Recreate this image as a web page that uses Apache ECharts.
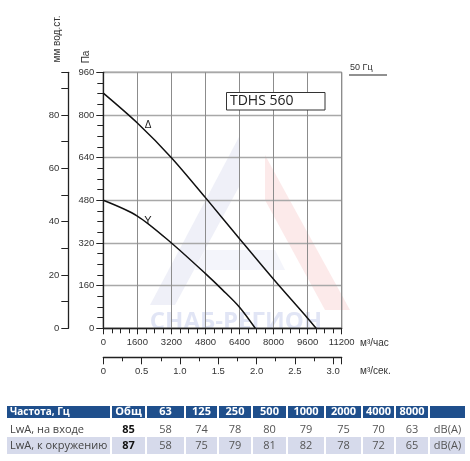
<!DOCTYPE html>
<html>
<head>
<meta charset="utf-8">
<script src="https://cdn.jsdelivr.net/npm/echarts@6/dist/echarts.min.js"></script>
<style>
  html, body { margin: 0; padding: 0; background: #fff; }
  #chart { width: 470px; height: 461px; }
</style>
</head>
<body>
<div id="chart"></div>
<script>
// fan curves (flow m3/h -> pressure Pa)
const deltaFlow = [0, 1600, 3200, 4800, 6400, 8000, 9600, 10000]
const deltaPa = [882, 770, 640, 490, 336, 184, 38, 0]
const starFlow = [0, 1600, 3200, 4800, 5600, 6400, 7140]
const starPa = [480, 421, 320, 205, 144, 79, 0]

// sound table
const bands = ['Общ', '63', '125', '250', '500', '1000', '2000', '4000', '8000']
const lwInlet = [85, 58, 74, 78, 80, 79, 75, 70, 63]
const lwAmbient = [87, 58, 75, 79, 81, 82, 78, 72, 65]
const rowNames = ['Частота, Гц', 'LwA, на входе', 'LwA, к окружению']
const unit = 'dB(A)'

const FONT = 'Liberation Sans, Arial, sans-serif'
const TFONT = 'Open Sans, sans-serif'

const chart = echarts.init(document.getElementById('chart'))

// table columns [x0, x1]
const cols = [[7, 110], [112, 145], [147, 184], [186, 217], [219, 251], [253, 286], [288, 324], [326, 361], [363, 394], [396, 428], [430, 465]]

function tableGraphics() {
  const g = []
  cols.forEach((c, i) => {
    g.push({ type: 'rect', shape: { x: c[0], y: 406, width: c[1] - c[0], height: 12 }, style: { fill: '#1f4f8c' } })
    g.push({ type: 'rect', shape: { x: c[0], y: 437, width: c[1] - c[0], height: 17 }, style: { fill: '#d6daeb' } })
  })
  g.push({ type: 'text', x: 10, y: 412, style: { text: rowNames[0], fill: '#fff', font: 'bold 10px ' + TFONT, textVerticalAlign: 'middle' } })
  g.push({ type: 'text', x: 10, y: 429.5, style: { text: rowNames[1], fill: '#444', font: '11px ' + TFONT, textVerticalAlign: 'middle' } })
  g.push({ type: 'text', x: 10, y: 445.5, style: { text: rowNames[2], fill: '#444', font: '11px ' + TFONT, textVerticalAlign: 'middle' } })
  bands.forEach((b, i) => {
    const c = cols[i + 1]
    const cx = (c[0] + c[1]) / 2
    g.push({ type: 'text', x: cx, y: 412, style: { text: b, fill: '#fff', font: 'bold 11px ' + TFONT, textAlign: 'center', textVerticalAlign: 'middle' } })
    const bold = i === 0
    g.push({ type: 'text', x: cx, y: 429.5, style: { text: String(lwInlet[i]), fill: bold ? '#111' : '#555', font: (bold ? 'bold ' : '') + '11px ' + TFONT, textAlign: 'center', textVerticalAlign: 'middle' } })
    g.push({ type: 'text', x: cx, y: 445.5, style: { text: String(lwAmbient[i]), fill: bold ? '#111' : '#555', font: (bold ? 'bold ' : '') + '11px ' + TFONT, textAlign: 'center', textVerticalAlign: 'middle' } })
  })
  const lc = cols[10]
  g.push({ type: 'text', x: (lc[0] + lc[1]) / 2, y: 429.5, style: { text: unit, fill: '#555', font: '11px ' + TFONT, textAlign: 'center', textVerticalAlign: 'middle' } })
  g.push({ type: 'text', x: (lc[0] + lc[1]) / 2, y: 445.5, style: { text: unit, fill: '#555', font: '11px ' + TFONT, textAlign: 'center', textVerticalAlign: 'middle' } })
  return g
}

const watermark = [
  { type: 'polygon', z: -10, shape: { points: [[240, 135], [150, 305], [175, 305], [240, 185]] }, style: { fill: 'rgba(120,130,200,0.12)' } },
  { type: 'polygon', z: -10, shape: { points: [[265, 155], [350, 310], [325, 310], [265, 200]] }, style: { fill: 'rgba(230,80,80,0.12)' } },
  { type: 'polygon', z: -10, shape: { points: [[205, 250], [275, 250], [285, 270], [195, 270]] }, style: { fill: 'rgba(120,130,200,0.08)' } },
  { type: 'text', z: -10, x: 236, y: 322, style: { text: 'СНАБ-РЕГИОН', fill: 'rgba(170,180,225,0.35)', font: 'bold 24px ' + TFONT, textAlign: 'center', textVerticalAlign: 'middle' } }
]

const labels = [
  { type: 'text', x: 57, y: 39, rotation: Math.PI / 2, style: { text: 'мм вод.ст.', fill: '#333', font: '10px ' + FONT, textAlign: 'center', textVerticalAlign: 'middle' } },
  { type: 'text', x: 86, y: 57, rotation: Math.PI / 2, style: { text: 'Па', fill: '#333', font: '10px ' + FONT, textAlign: 'center', textVerticalAlign: 'middle' } },
  { type: 'text', x: 360, y: 343, style: { text: 'м³/час', fill: '#333', font: '10px ' + FONT, textVerticalAlign: 'middle' } },
  { type: 'text', x: 360, y: 371, style: { text: 'м³/сек.', fill: '#333', font: '10px ' + FONT, textVerticalAlign: 'middle' } },
  { type: 'text', x: 350, y: 68, style: { text: '50 Гц', fill: '#333', font: '9px ' + FONT, textVerticalAlign: 'middle' } },
  { type: 'line', shape: { x1: 349, y1: 75, x2: 387, y2: 75 }, style: { stroke: '#222', lineWidth: 1 } },
  { type: 'rect', z: 50, shape: { x: 226.5, y: 92.5, width: 98.5, height: 17.5 }, style: { fill: '#fff', stroke: '#333', lineWidth: 1 } },
  { type: 'text', z: 51, x: 230, y: 101.5, style: { text: 'TDHS 560', fill: '#222', font: '14px ' + TFONT, textVerticalAlign: 'middle' } }
]

const tickStyle = { color: '#222', width: 1 }
const axisLineStyle = { show: true, onZero: false, lineStyle: { color: '#222', width: 1.3 } }

chart.setOption({
  animation: false,
  grid: { left: 103.3, right: 128.3, top: 72.3, bottom: 132.7, show: true, borderColor: '#222', borderWidth: 1 },
  xAxis: [{
    type: 'value', min: 0, max: 11200, interval: 1600, position: 'bottom',
    axisLine: axisLineStyle,
    axisTick: { show: true, length: 6, lineStyle: tickStyle },
    minorTick: { show: true, splitNumber: 4, length: 5, lineStyle: tickStyle },
    axisLabel: { color: '#333', fontFamily: FONT, fontSize: 9.5, margin: 9, formatter: v => String(v) },
    splitLine: { show: true, lineStyle: { color: '#8c8c8c', width: 1 } }
  }, {
    type: 'value', min: 0, max: 11200 / 3600, interval: 0.5, position: 'bottom', offset: 29,
    axisLine: axisLineStyle,
    axisTick: { show: true, length: 7, lineStyle: tickStyle },
    minorTick: { show: true, splitNumber: 2, length: 4, lineStyle: tickStyle },
    axisLabel: {
      color: '#333', fontFamily: FONT, fontSize: 9.5, margin: 9,
      formatter: v => v === 0 ? '0' : (Math.abs(v * 2 - Math.round(v * 2)) < 1e-6 ? v.toFixed(1) : '')
    },
    splitLine: { show: false }
  }],
  yAxis: [{
    type: 'value', min: 0, max: 960, interval: 160, position: 'left',
    axisLine: axisLineStyle,
    axisTick: { show: true, length: 7, lineStyle: tickStyle },
    minorTick: { show: true, splitNumber: 4, length: 6, lineStyle: tickStyle },
    axisLabel: { color: '#333', fontFamily: FONT, fontSize: 9.5, margin: 9 },
    splitLine: { show: true, lineStyle: { color: '#a8a8a8', width: 1.3 } }
  }, {
    type: 'value', min: 0, max: 96, interval: 10, position: 'left', offset: 35,
    axisLine: axisLineStyle,
    axisTick: { show: true, length: 7, lineStyle: tickStyle },
    axisLabel: {
      color: '#333', fontFamily: FONT, fontSize: 9.5, margin: 9,
      formatter: v => (v % 20 === 0 ? String(v) : '')
    },
    splitLine: { show: false }
  }],
  series: [{
    name: 'Δ', type: 'line', xAxisIndex: 0, yAxisIndex: 0,
    data: deltaFlow.map((f, i) => [f, deltaPa[i]]),
    smooth: 0.3, showSymbol: false, z: 5,
    lineStyle: { color: '#111', width: 1.5 },
    markPoint: {
      symbol: 'circle', symbolSize: 0,
      label: { show: true, formatter: 'Δ', color: '#222', fontFamily: FONT, fontSize: 10, position: 'inside' },
      data: [{ coord: [2100, 762] }]
    }
  }, {
    name: 'Y', type: 'line', xAxisIndex: 0, yAxisIndex: 0,
    data: starFlow.map((f, i) => [f, starPa[i]]),
    smooth: 0.3, showSymbol: false, z: 5,
    lineStyle: { color: '#111', width: 1.5 },
    markPoint: {
      symbol: 'circle', symbolSize: 0,
      label: { show: true, formatter: 'Y', color: '#222', fontFamily: FONT, fontSize: 11, position: 'inside' },
      data: [{ coord: [2100, 403] }]
    }
  }],
  graphic: watermark.concat(labels, tableGraphics())
})
</script>
</body>
</html>
